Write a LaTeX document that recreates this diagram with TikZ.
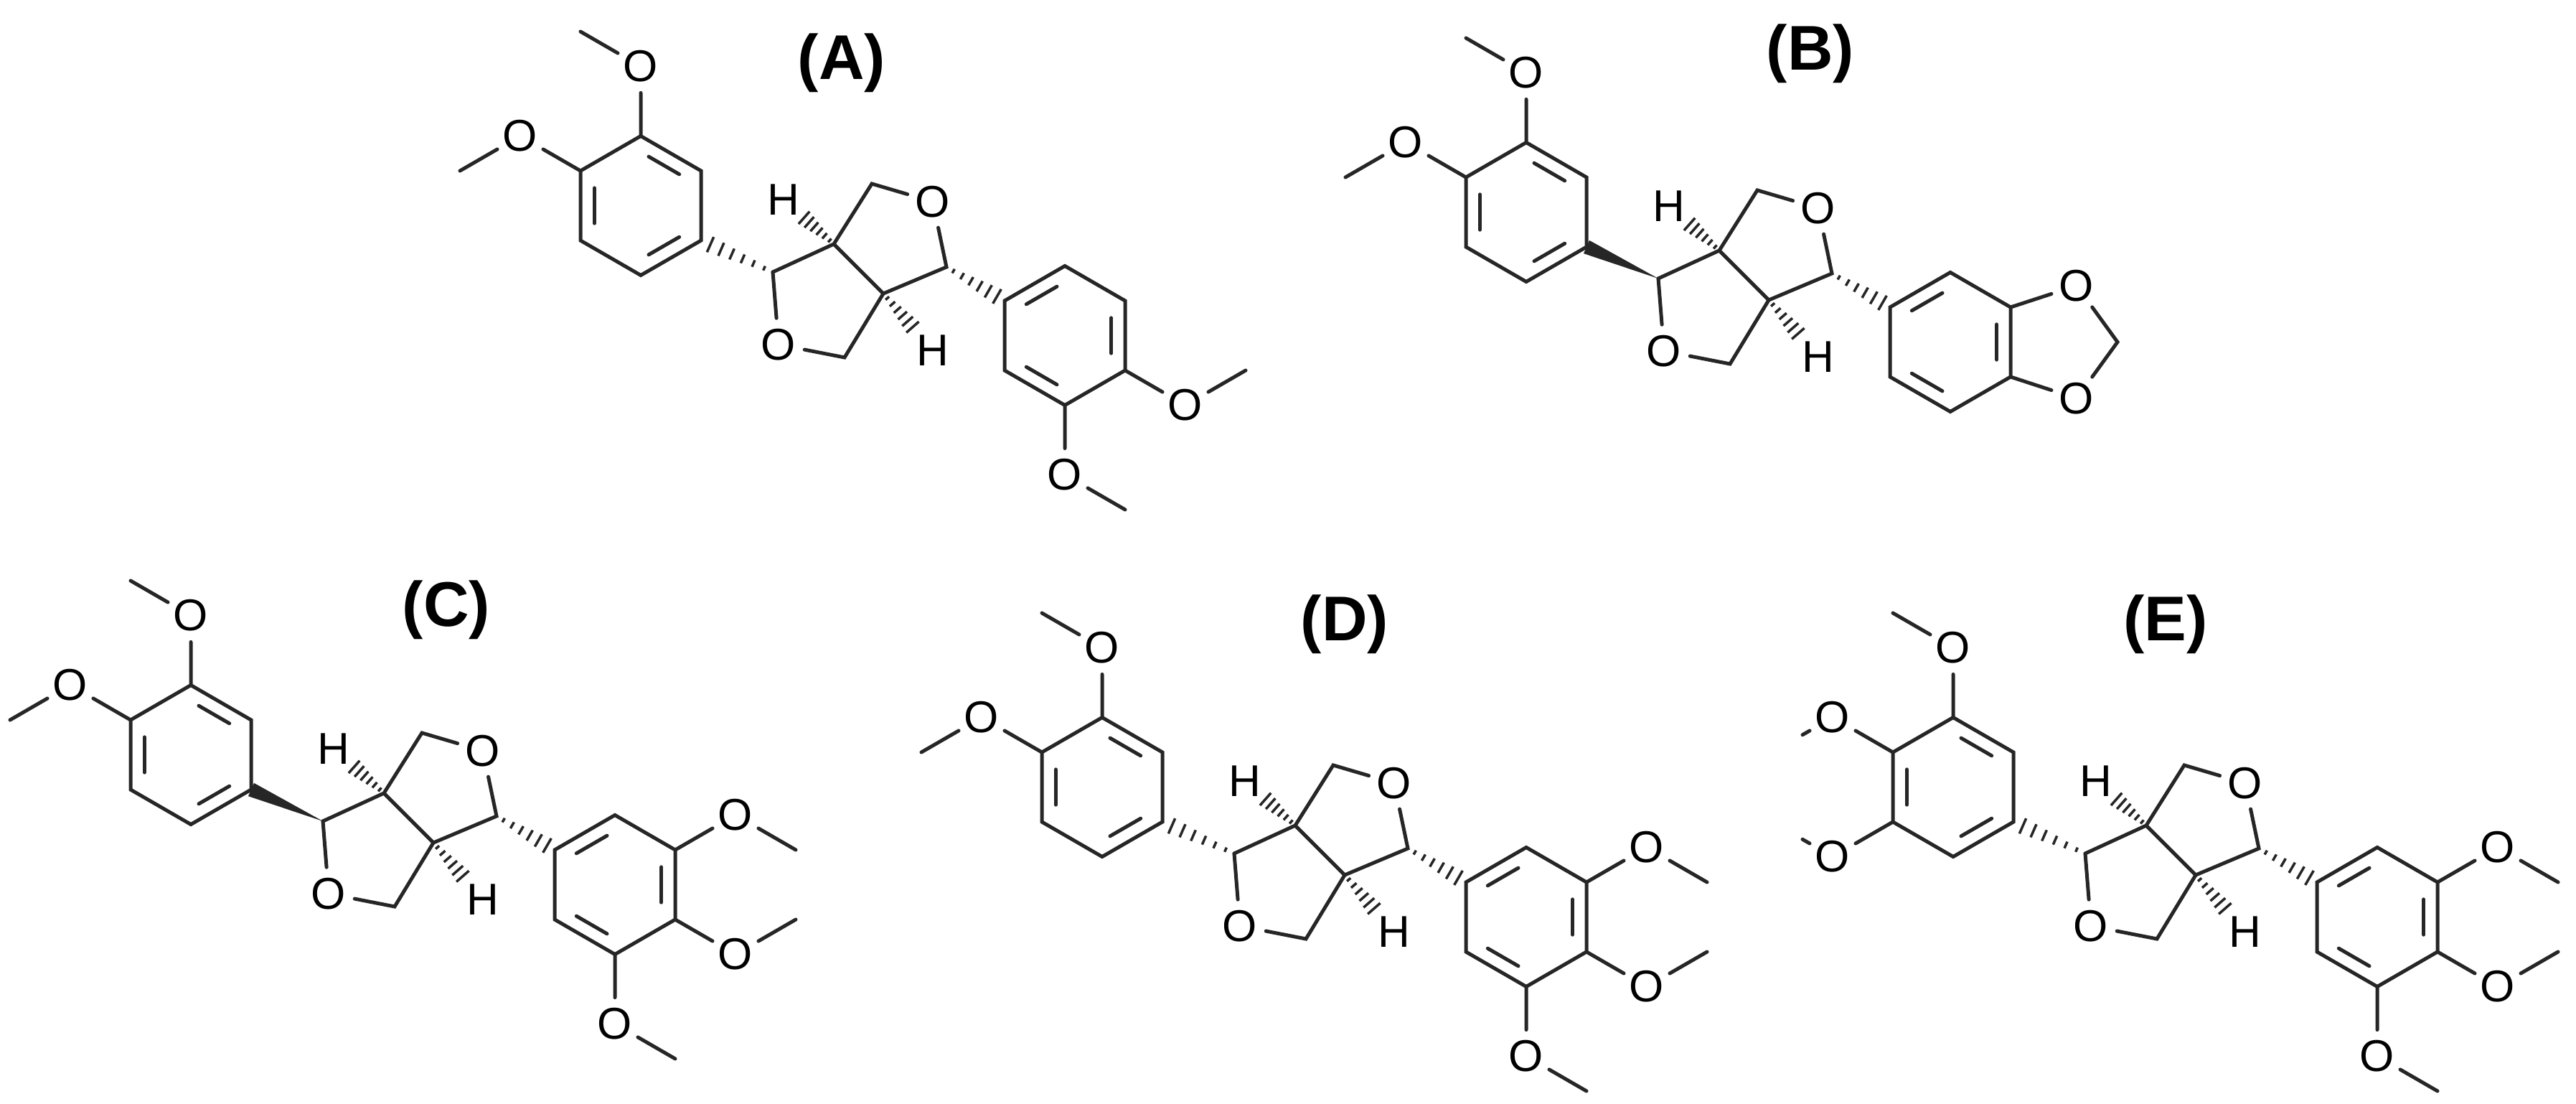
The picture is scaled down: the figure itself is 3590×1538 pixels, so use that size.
\documentclass[tikz,border=0pt]{standalone}
\usepackage{fontspec}
\setmainfont{Liberation Sans}
\usetikzlibrary{calc}
\tikzset{
  bnd/.style={line width=5pt, line cap=round, color=black!85},
  hsh/.style={line width=3.5pt, color=black!85},
  atom/.style={circle, inner sep=3pt, font=\fontsize{62}{62}\selectfont, text=black},
  lbl/.style={font=\fontsize{88}{88}\selectfont\bfseries, text=black}
}
% hashed bond, narrow at #1, wide at #2
\newcommand\hashbond[2]{%
  \foreach \t in {0.12,0.27,0.42,0.57,0.72,0.87}{%
    \pgfmathsetmacro\w{2+11*\t}%
    \coordinate (hp) at ($(#1)!\t!(#2)$);
    \draw[hsh] ($(hp)!\w pt!90:(#2)$) -- ($(hp)!\w pt!-90:(#2)$);
  }}
% wedge bond, narrow at #1, wide at #2
\newcommand\wedgebond[2]{%
  \fill[black!85] (#1) -- ($(#2)!10pt!90:(#1)$) -- ($(#2)!10pt!-90:(#1)$) -- cycle;}
% inner double line of ring edge #1-#2 with centre #3
\newcommand\dbl[3]{%
  \coordinate (da) at ($(#1)!0.17!(#2)$);
  \coordinate (db) at ($(#1)!0.83!(#2)$);
  \draw[bnd] ($(da)!0.23!(#3)$) -- ($(db)!0.23!(#3)$);}
% hexagon #1 prefix, centre given as coordinate #1c
\newcommand\hexring[1]{%
  \draw[bnd] (#1top) -- (#1ur) -- (#1lr) -- (#1b) -- (#1ll) -- (#1ul) -- cycle;}
\newcommand\hexcoords[3]{% prefix, cx, cy
  \coordinate (#1c) at (#2,#3);
  \coordinate (#1top) at (#2,#3-97);
  \coordinate (#1ur) at (#2+84,#3-48.5);
  \coordinate (#1lr) at (#2+84,#3+48.5);
  \coordinate (#1b) at (#2,#3+97);
  \coordinate (#1ll) at (#2-84,#3+48.5);
  \coordinate (#1ul) at (#2-84,#3-48.5);}
% #1 prefix, #2 x, #3 y, #4 left stereo (h/w), #5 left ring (2/3), #6 right ring (a/b/c)
\newcommand\molecule[6]{%
\begin{scope}[shift={(#2,#3)}]
  \coordinate (#1C7) at (0,0);
  \coordinate (#1C8) at (85,-39);
  \coordinate (#1C8p) at (154,30);
  \coordinate (#1C7p) at (242,-7);
  \coordinate (#1Ct) at (138,-123);
  \coordinate (#1Cb) at (100,119);
  \node[atom] (#1Or) at (223,-98) {O};
  \node[atom] (#1Ob) at (8,101) {O};
  \node[atom] (#1Ht) at (15,-101) {H};
  \node[atom] (#1Hb) at (223,109) {H};
  \draw[bnd] (#1C7) -- (#1C8) -- (#1C8p) -- (#1C7p) -- (#1Or) -- (#1Ct) -- (#1C8);
  \draw[bnd] (#1C7) -- (#1Ob) -- (#1Cb) -- (#1C8p);
  \coordinate (#1Hte) at ($(#1C8)!0.68!(#1Ht)$);
  \coordinate (#1Hbe) at ($(#1C8p)!0.68!(#1Hb)$);
  \hashbond{#1C8}{#1Hte}
  \hashbond{#1C8p}{#1Hbe}
  % left ring
  \hexcoords{#1L}{-184}{-92.5}
  \hexring{#1L}
  \dbl{#1Ltop}{#1Lur}{#1Lc}\dbl{#1Llr}{#1Lb}{#1Lc}\dbl{#1Lll}{#1Lul}{#1Lc}
  \if h#4 \hashbond{#1C7}{#1Llr}\else \wedgebond{#1C7}{#1Llr}\fi
  \node[atom] (#1Ot) at (-184,-286.5) {O};
  \coordinate (#1Mt) at (-268,-335);
  \draw[bnd] (#1Ltop) -- (#1Ot) -- (#1Mt);
  \node[atom] (#1Oul) at (-352,-189.5) {O};
  \coordinate (#1Mul) at (-436,-141);
  \if 3#5
    \coordinate (#1Sul) at ($(#1Oul)!0.5!(#1Mul)$);
    \draw[bnd] (#1Lul) -- (#1Oul) -- (#1Sul);
    \node[atom] (#1Oll) at (-352,4.5) {O};
    \coordinate (#1Mll) at (-436,-44);
    \coordinate (#1Sll) at ($(#1Oll)!0.5!(#1Mll)$);
    \draw[bnd] (#1Lll) -- (#1Oll) -- (#1Sll);
  \else
    \draw[bnd] (#1Lul) -- (#1Oul) -- (#1Mul);
  \fi
  % right ring
  \hexcoords{#1R}{407}{88.5}
  \hexring{#1R}
  \dbl{#1Rul}{#1Rtop}{#1Rc}\dbl{#1Rur}{#1Rlr}{#1Rc}\dbl{#1Rb}{#1Rll}{#1Rc}
  \hashbond{#1C7p}{#1Rul}
  \if b#6
    \node[atom] (#1O1) at (583,10) {O};
    \node[atom] (#1O2) at (583,167) {O};
    \coordinate (#1Cm) at (640,88.5);
    \draw[bnd] (#1Rur) -- (#1O1) -- (#1Cm) -- (#1O2) -- (#1Rlr);
  \else
    \node[atom] (#1Olr) at (575,185.5) {O};
    \coordinate (#1Mlr) at (659,137);
    \draw[bnd] (#1Rlr) -- (#1Olr) -- (#1Mlr);
    \node[atom] (#1Obt) at (407,282.5) {O};
    \coordinate (#1Mbt) at (491,331);
    \draw[bnd] (#1Rb) -- (#1Obt) -- (#1Mbt);
    \if c#6
      \node[atom] (#1Our) at (575,-8.5) {O};
      \coordinate (#1Mur) at (659,40);
      \draw[bnd] (#1Rur) -- (#1Our) -- (#1Mur);
    \fi
  \fi
\end{scope}}
\begin{document}
\begin{tikzpicture}[x=1pt,y=-1pt]
\useasboundingbox[fill=white] (0,0) rectangle (3590,1538);
\molecule{a}{1077}{379}{h}{2}{a}
\molecule{b}{2311}{388}{w}{2}{b}
\molecule{c}{450}{1144}{w}{2}{c}
\molecule{d}{1720}{1189}{h}{2}{c}
\molecule{e}{2906}{1189}{h}{3}{c}
\node[lbl] (la) at (1173,88) {(A)};
\node[lbl] (lb) at (2523,75) {(B)};
\node[lbl] (lc) at (622,850) {(C)};
\node[lbl] (ld) at (1874,870) {(D)};
\node[lbl] (le) at (3018,870) {(E)};
\end{tikzpicture}
\end{document}
